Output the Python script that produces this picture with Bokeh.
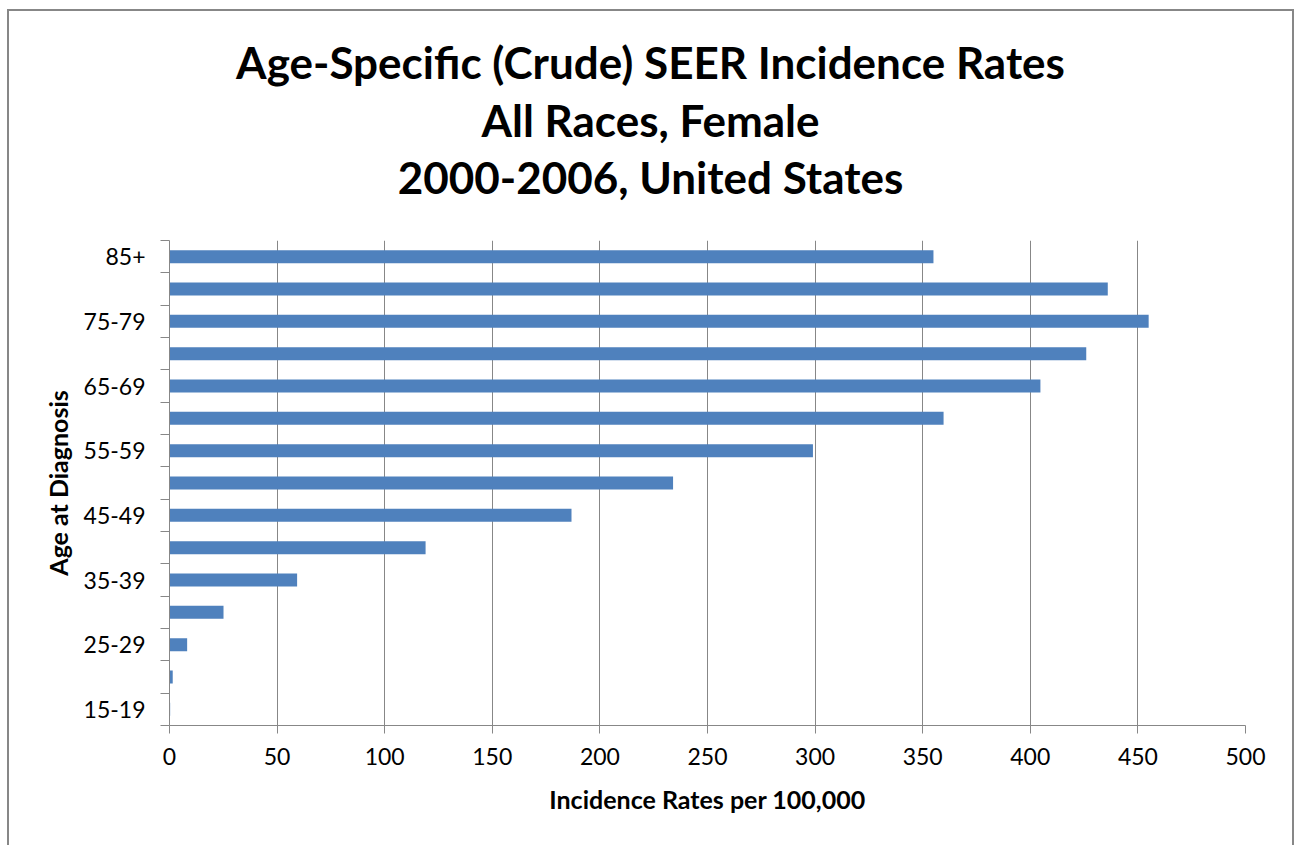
from bokeh.plotting import figure
from bokeh.layouts import column
from bokeh.models import FixedTicker, Range1d, ColumnDataSource
from bokeh.core.properties import value
from bokeh.embed import file_html
from bokeh.resources import INLINE

# ---- data -------------------------------------------------------------
age_groups = ["15-19", "20-24", "25-29", "30-34", "35-39", "40-44", "45-49",
              "50-54", "55-59", "60-64", "65-69", "70-74", "75-79", "80-84", "85+"]
rates = [0.3, 1.5, 8.2, 25.1, 59.3, 119.0, 186.8, 234.0, 299.0, 359.7,
         404.7, 426.0, 455.0, 436.0, 355.0]
x_ticks = [0, 50, 100, 150, 200, 250, 300, 350, 400, 450, 500]
title_lines = ["Age-Specific (Crude) SEER Incidence Rates",
               "All Races, Female",
               "2000-2006, United States"]
x_title = "Incidence Rates per 100,000"
y_title = "Age at Diagnosis"

# ---- layout (pixels) --------------------------------------------------
W, H = 1296, 845
TITLE_H = 232
F_LEFT, F_RIGHT, F_TOP, F_BOTTOM = 169, 1245, 240, 725
TITLE_CX = 650
TITLE_Y = [61, 119, 176]   # anchor rows of the three title lines

FONT = "Lato"
GREY = "#878787"
BAR = "#4F81BD"

# ---- title strip: its own figure, frame aligned with the chart frame,
#      ranges expressed in page pixels ---------------------------------
tf = figure(width=W, height=TITLE_H, output_backend="svg", toolbar_location=None,
            x_axis_location=None, y_axis_location=None,
            x_range=Range1d(F_LEFT, F_RIGHT), y_range=Range1d(TITLE_H, 0),
            min_border_left=F_LEFT, min_border_right=W - F_RIGHT,
            min_border_top=0, min_border_bottom=0)
tf.title = None
tf.grid.visible = False
tf.outline_line_color = None
tf.background_fill_color = None
tf.border_fill_color = None
tf.text(x=[TITLE_CX] * len(title_lines), y=TITLE_Y, text=title_lines,
        text_align="center", text_baseline="alphabetic",
        text_font=value(FONT), text_font_style="bold",
        text_font_size="44px", text_color="#000000")

# ---- main chart -------------------------------------------------------
n = len(age_groups)
pos = [i + 0.5 for i in range(n)]
src = ColumnDataSource(dict(age=age_groups, rate=rates, pos=pos))

x0, x1 = x_ticks[0], x_ticks[-1]
PH = H - TITLE_H
p = figure(width=W, height=PH, output_backend="svg", toolbar_location=None,
           x_range=Range1d(x0, x1), y_range=Range1d(0, n),
           min_border_left=F_LEFT, min_border_right=W - F_RIGHT,
           min_border_top=F_TOP - TITLE_H, min_border_bottom=H - F_BOTTOM)
p.title = None
p.outline_line_color = None
p.border_fill_color = None
p.background_fill_color = "white"

p.hbar(y="pos", left=0, right="rate", height=0.4, source=src,
       fill_color=BAR, line_color=None)

# grid
p.ygrid.visible = False
p.xgrid.ticker = FixedTicker(ticks=x_ticks)
p.xgrid.grid_line_color = GREY
p.xgrid.grid_line_width = 1

# x axis
xa = p.xaxis[0]
xa.ticker = FixedTicker(ticks=x_ticks, minor_ticks=[])
xa.axis_line_color = GREY
xa.major_tick_line_color = GREY
xa.major_tick_in = 0
xa.major_tick_out = 8
xa.minor_tick_in = 0
xa.minor_tick_out = 0
xa.major_label_text_font = FONT
xa.major_label_text_font_size = "23px"
xa.major_label_text_color = "#000000"
xa.major_label_standoff = 14
xa.axis_label = x_title
xa.axis_label_text_font = FONT
xa.axis_label_text_font_style = "bold"
xa.axis_label_text_font_size = "25px"
xa.axis_label_text_color = "#000000"
xa.axis_label_standoff = 16

# y axis: labels on every other category, ticks on category boundaries
ya = p.yaxis[0]
label_pos = [pos[i] for i in range(0, n, 2)]
ya.ticker = FixedTicker(ticks=label_pos, minor_ticks=list(range(n + 1)))
ya.major_label_overrides = {pos[i]: age_groups[i] for i in range(0, n, 2)}
ya.axis_line_color = GREY
ya.major_tick_in = 0
ya.major_tick_out = 0
ya.minor_tick_in = 0
ya.minor_tick_out = 9
ya.minor_tick_line_color = GREY
ya.major_label_text_font = FONT
ya.major_label_text_font_size = "23px"
ya.major_label_text_color = "#000000"
ya.major_label_standoff = 15
ya.axis_label = y_title
ya.axis_label_text_font = FONT
ya.axis_label_text_font_style = "bold"
ya.axis_label_text_font_size = "25px"
ya.axis_label_text_color = "#000000"
ya.axis_label_standoff = 8

layout = column(tf, p, spacing=0)
layout.styles = {"box-shadow": (
    "inset 7px 0 0 0 white, inset 0 9px 0 0 white, inset -2px 0 0 0 white, "
    "inset 9px 0 0 0 #878787, inset 0 11px 0 0 #878787, inset -4px 0 0 0 #878787")}

open("out.html", "w").write(file_html(layout, INLINE))
